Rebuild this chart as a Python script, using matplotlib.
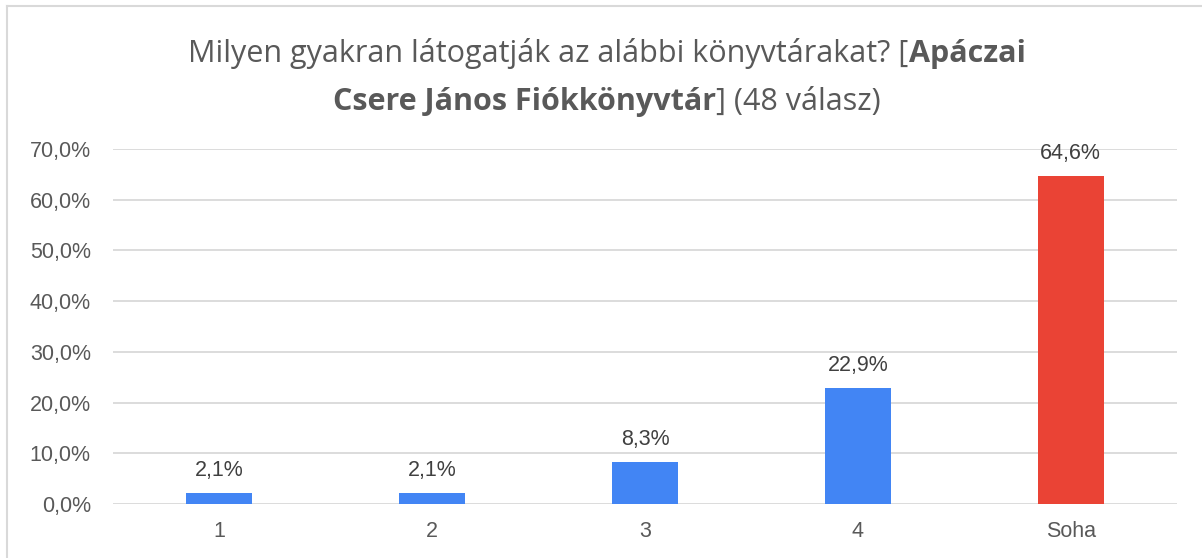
import matplotlib.pyplot as plt
from matplotlib.lines import Line2D

categories = ['1', '2', '3', '4', 'Soha']
values = [2.1, 2.1, 8.3, 22.9, 64.6]
colors = ['#4285F4', '#4285F4', '#4285F4', '#4285F4', '#EA4335']
yticks = [0, 10, 20, 30, 40, 50, 60, 70]

title_line1 = [('Milyen gyakran látogatják az alábbi könyvtárakat? [', 'normal'),
               ('Apáczai', 'bold')]
title_line2 = [('Csere János Fiókkönyvtár', 'bold'), ('] (48 válasz)', 'normal')]

W, H = 1202, 558
fig = plt.figure(figsize=(W / 100, H / 100), dpi=100)
ax = fig.add_axes([113 / W, 1 - 504 / H, (1177 - 113) / W, (504 - 149) / H])

x = range(len(categories))
ax.bar(x, values, width=0.31, color=colors, zorder=3)
for xi, v in zip(x, values):
    ax.annotate(f'{v:.1f}%'.replace('.', ','), (xi, v), xytext=(0, 12.2),
                textcoords='offset points', ha='center', va='baseline',
                fontsize=15.5, color='#404040', family='Liberation Sans')

ax.set_xlim(-0.5, len(categories) - 0.5)
ax.set_ylim(0, 70)
ax.set_yticks(yticks)
ax.set_yticklabels([f'{t:.1f}%'.replace('.', ',') for t in yticks])
ax.set_xticks(list(x))
ax.set_xticklabels(categories)
ax.grid(axis='y', color='#d9d9d9', linewidth=1.3, zorder=0)
ax.tick_params(length=0, labelsize=15.5, labelcolor='#595959')
ax.tick_params(axis='x', pad=12)
ax.tick_params(axis='y', pad=16)
for lab in ax.get_xticklabels() + ax.get_yticklabels():
    lab.set_family('Liberation Sans')
for s in ax.spines.values():
    s.set_visible(False)

# title with mixed weights
fig.canvas.draw()
renderer = fig.canvas.get_renderer()


def draw_line(parts, y):
    texts = []
    total = 0
    for s, w in parts:
        t = fig.text(0, y, s, fontsize=22, fontweight=w, color='#595959',
                     family='Open Sans', va='baseline', ha='left')
        total += t.get_window_extent(renderer).width
        texts.append(t)
    xpos = (W - total) / 2 + 6
    for t in texts:
        t.set_x(xpos / W)
        xpos += t.get_window_extent(renderer).width


draw_line(title_line1, 1 - 62 / H)
draw_line(title_line2, 1 - 110 / H)

# border (top and left only)
fig.add_artist(Line2D([6.5 / W, 1], [1 - 5.5 / H, 1 - 5.5 / H], color='#d9d9d9', lw=1.5))
fig.add_artist(Line2D([6.5 / W, 6.5 / W], [0, 1 - 5.5 / H], color='#d9d9d9', lw=1.5))

fig.savefig('out.png', dpi=100)
